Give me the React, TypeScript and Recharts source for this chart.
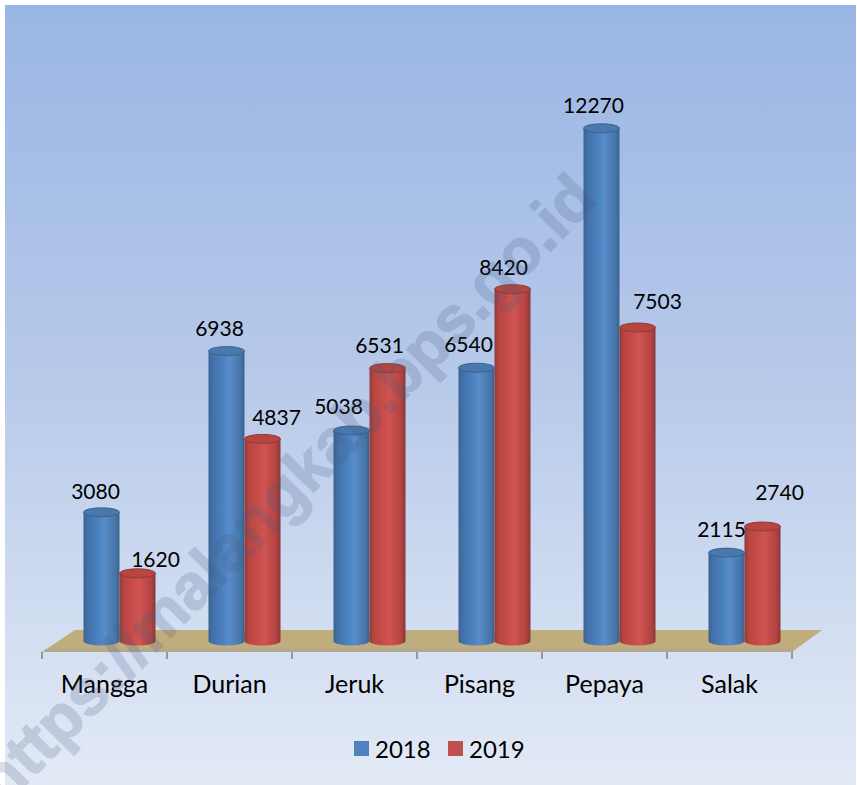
import React from "react";
import {
  BarChart,
  Bar,
  XAxis,
  YAxis,
  Legend,
  LabelList,
  usePlotArea,
} from "recharts";

const categories = ["Mangga", "Durian", "Jeruk", "Pisang", "Pepaya", "Salak"];
const values2018 = [3080, 6938, 5038, 6540, 12270, 2115];
const values2019 = [1620, 4837, 6531, 8420, 7503, 2740];

const rows = categories.map((name, i) => ({
  name,
  y2018: values2018[i],
  y2019: values2019[i],
}));

// fake 3D: columns sit on the floor, back and to the right of the axis line
const DEPTH_X = 14.5;
const DEPTH_Y = 11;
const FONT = "Lato, 'Open Sans', sans-serif";

// hand placed labels, as in the original (dx, dy from top centre of the column)
const nudge2018 = [
  [-6, -19],
  [-7, -21],
  [-13, -22],
  [-8, -21],
  [-8, -21],
  [-5, -21],
];
const nudge2019 = [
  [18, -12],
  [14, -19],
  [-8, -21],
  [-9, -20],
  [20, -24],
  [17, -32],
];

function Cylinder(props: any) {
  const { x, y, width, height, gradient, cap, rim } = props;
  if (height == null) return null;
  const left = x + DEPTH_X;
  const right = left + width;
  const top = y - DEPTH_Y;
  const base = top + height;
  const rx = width / 2;
  const ry = 4.5;
  return (
    <g filter="url(#soft)">
      <path
        d={`M${left},${top} L${left},${base} A${rx},${ry} 0 0 0 ${right},${base} L${right},${top} Z`}
        fill={`url(#${gradient})`}
      />
      <ellipse cx={left + rx} cy={top} rx={rx} ry={ry} fill={cap} stroke={rim} strokeWidth={1} />
    </g>
  );
}

function Floor() {
  const plot = usePlotArea();
  if (!plot) return null;
  const front = plot.y + plot.height;
  const back = front - 22;
  const x0 = plot.x;
  const x1 = plot.x + plot.width;
  return (
    <g>
      <polygon
        points={`${x0},${front} ${x1},${front} ${x1 + 30},${back} ${x0 + 33},${back}`}
        fill="#c0ad7e"
      />
      <line x1={x0 + 3} y1={front - 1.5} x2={x1 + 1} y2={front - 1.5} stroke="#b4a78f" strokeWidth={3} />
    </g>
  );
}

// category label in the middle of the band, tick mark on the band edges
function AxisTick(props: any) {
  const plot = usePlotArea();
  const { x, payload, index } = props;
  if (!plot) return null;
  const axisY = plot.y + plot.height;
  const band = plot.width / categories.length;
  const edges = index === categories.length - 1 ? [x - band / 2, x + band / 2] : [x - band / 2];
  return (
    <g>
      {edges.map((ex) => (
        <line key={ex} x1={ex} y1={axisY} x2={ex} y2={axisY + 7} stroke="#808080" strokeWidth={1.5} />
      ))}
      <text x={x} y={axisY + 41} textAnchor="middle" fontFamily={FONT} fontSize={25} fill="#000">
        {payload.value}
      </text>
    </g>
  );
}

function LegendRow({ payload }: any) {
  return (
    <div style={{ display: "flex", marginLeft: 312, height: 30, alignItems: "center" }}>
      {(payload || []).map((item: any) => (
        <div key={item.value} style={{ display: "flex", alignItems: "center", width: 94 }}>
          <span style={{ width: 15, height: 15, background: item.color, marginRight: 6 }} />
          <span style={{ color: "#000", fontFamily: FONT, fontSize: 24 }}>{item.value}</span>
        </div>
      ))}
    </div>
  );
}

function makeLabel(nudge: number[][]) {
  return function ValueLabel(props: any) {
    const { x, y, width, value, index } = props;
    const [dx, dy] = nudge[index];
    return (
      <text
        x={x + width / 2 + DEPTH_X + dx}
        y={y - DEPTH_Y + dy + 5.5}
        textAnchor="middle"
        fontFamily={FONT}
        fontSize={21}
        fill="#000"
      >
        {value}
      </text>
    );
  };
}

export default function App() {
  return (
    <div
      style={{
        position: "absolute",
        left: 0,
        top: 0,
        width: 857,
        height: 785,
        overflow: "hidden",
        background: "#fff",
      }}
    >
      <div
        style={{
          position: "absolute",
          left: 5,
          top: 5,
          width: 851,
          height: 780,
          background: "linear-gradient(180deg, #9ab6e4 0%, #b5c8e9 45%, #e3eaf6 100%)",
        }}
      >
        <BarChart
          width={847}
          height={780}
          data={rows}
          barSize={36}
          barGap={0}
          margin={{ top: 62, right: 60, bottom: 22, left: 37 }}
        >
          <defs>
            <filter id="soft" x="-10%" y="-10%" width="120%" height="120%">
              <feGaussianBlur stdDeviation="0.6" />
            </filter>
            <linearGradient id="cylBlue" x1="0" y1="0" x2="1" y2="0">
              <stop offset="0%" stopColor="#3b618d" />
              <stop offset="10%" stopColor="#4170a8" />
              <stop offset="48%" stopColor="#4f86c6" />
              <stop offset="58%" stopColor="#5a8cc8" />
              <stop offset="90%" stopColor="#4473a8" />
              <stop offset="100%" stopColor="#3c628c" />
            </linearGradient>
            <linearGradient id="cylRed" x1="0" y1="0" x2="1" y2="0">
              <stop offset="0%" stopColor="#8e3b3d" />
              <stop offset="12%" stopColor="#b9453f" />
              <stop offset="55%" stopColor="#d05452" />
              <stop offset="88%" stopColor="#b44340" />
              <stop offset="100%" stopColor="#86383c" />
            </linearGradient>
          </defs>
          <Floor />
          <XAxis dataKey="name" height={81} axisLine={false} tickLine={false} interval={0} tick={<AxisTick />} />
          <YAxis hide domain={[0, 14000]} />
          <Legend height={30} content={<LegendRow />} />
          <Bar
            dataKey="y2018"
            name="2018"
            fill="#4f81bd"
            isAnimationActive={false}
            shape={(p: any) => <Cylinder {...p} gradient="cylBlue" cap="#4a78ad" rim="#3a628f" />}
          >
            <LabelList dataKey="y2018" content={makeLabel(nudge2018)} />
          </Bar>
          <Bar
            dataKey="y2019"
            name="2019"
            fill="#c0504d"
            isAnimationActive={false}
            shape={(p: any) => <Cylinder {...p} gradient="cylRed" cap="#b8443f" rim="#8f3a3a" />}
          >
            <LabelList dataKey="y2019" content={makeLabel(nudge2019)} />
          </Bar>
        </BarChart>
      </div>
      {/* site watermark laid over the whole picture */}
      <div
        style={{
          position: "absolute",
          left: -38,
          top: 766,
          transformOrigin: "0 0",
          transform: "rotate(-45.5deg)",
          whiteSpace: "nowrap",
          fontFamily: "'Liberation Sans', sans-serif",
          fontWeight: 700,
          fontSize: 64,
          color: "rgb(70, 90, 130)",
          WebkitTextStroke: "1.5px rgb(70, 90, 130)",
          opacity: 0.2,
          pointerEvents: "none",
        }}
      >
        https://malangkab.bps.go.id
      </div>
    </div>
  );
}
